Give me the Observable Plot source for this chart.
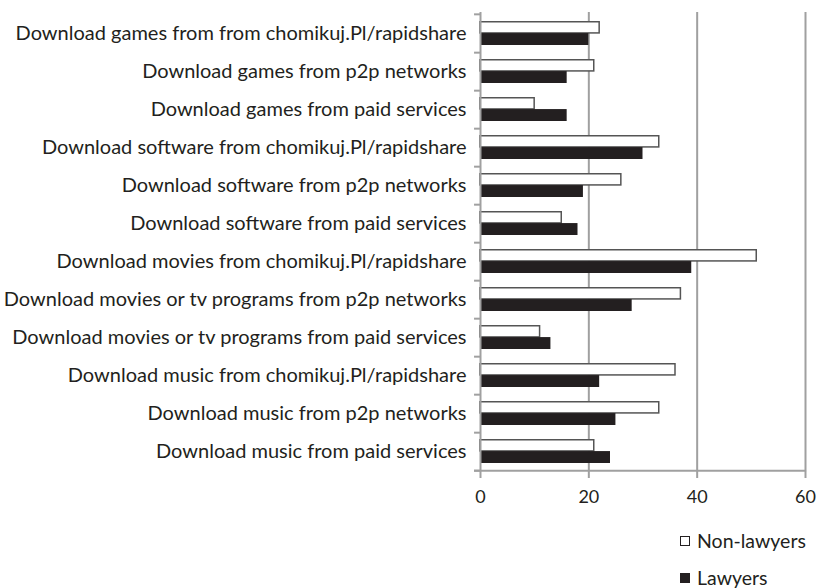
<!DOCTYPE html>
<html>
<head>
<meta charset="utf-8">
<script src="https://cdn.jsdelivr.net/npm/d3@7"></script>
<script src="https://cdn.jsdelivr.net/npm/@observablehq/plot@0.6"></script>
<style>
  body { margin: 0; background: #fff; font-family: Lato, sans-serif; }
  #wrap { position: relative; width: 817px; height: 588px; }
  .leg { position: absolute; left: 680px; font-size: 19.5px; color: #231f20; display: flex; align-items: center; }
  .sw { width: 10px; height: 10px; margin-right: 7px; box-sizing: border-box; }
</style>
</head>
<body>
<div id="wrap"></div>
<script>
const categories = [
  "Download games from from chomikuj.Pl/rapidshare",
  "Download games from p2p networks",
  "Download games from paid services",
  "Download software from chomikuj.Pl/rapidshare",
  "Download software from p2p networks",
  "Download software from paid services",
  "Download movies from chomikuj.Pl/rapidshare",
  "Download movies or tv programs from p2p networks",
  "Download movies or tv programs from paid services",
  "Download music from chomikuj.Pl/rapidshare",
  "Download music from p2p networks",
  "Download music from paid services"
];
const nonLawyers = [22, 21, 10, 33, 26, 15, 51, 37, 11, 36, 33, 21];
const lawyers    = [20, 16, 16, 30, 19, 18, 39, 28, 13, 22, 25, 24];
const xTicks = [0, 20, 40, 60];
const seriesNames = ["Non-lawyers", "Lawyers"];

const nl = categories.map((c, i) => ({category: c, value: nonLawyers[i]}));
const lw = categories.map((c, i) => ({category: c, value: lawyers[i]}));

const height = 520, marginTop = 12, marginBottom = 48;
const step = (height - marginTop - marginBottom) / categories.length;
const padIn = 0.37;
const bw = step * (1 - padIn);

const chart = Plot.plot({
  width: 817,
  height,
  marginLeft: 480,
  marginRight: 12,
  marginTop,
  marginBottom,
  style: {fontFamily: "Lato, sans-serif", fontSize: "18px", color: "#231f20", background: "#fff"},
  x: {domain: [0, 60], ticks: xTicks},
  y: {domain: categories, paddingInner: padIn, paddingOuter: padIn / 2},
  marks: [
    Plot.ruleX([20, 40, 60], {stroke: "#a0a0a0", strokeWidth: 2}),
    Plot.barX(nl, {y: "category", x: "value", fill: "#fff", stroke: "#555", strokeWidth: 1.5, insetBottom: bw / 2, insetTop: 0.75}),
    Plot.barX(lw, {y: "category", x: "value", fill: "#231f20", insetTop: bw / 2}),
    Plot.ruleX([0], {stroke: "#a0a0a0", strokeWidth: 2}),
    Plot.ruleY([0], {y: () => categories[0], x1: -1.1, x2: 0, dy: -step / 2, stroke: "#a0a0a0", strokeWidth: 2}),
    Plot.ruleY(categories, {y: d => d, x1: -1.1, x2: 0, dy: step / 2, stroke: "#a0a0a0", strokeWidth: 2}),
    Plot.ruleY(categories.slice(-1), {y: d => d, x1: -1.1, x2: 60.2, dy: step / 2, stroke: "#a0a0a0", strokeWidth: 2}),
    Plot.axisY({tickSize: 0, tickPadding: 14, label: null, fill: "#231f20", fontSize: 20}),
    Plot.axisX(xTicks, {tickSize: 6, tickPadding: 12, stroke: "#a0a0a0", strokeWidth: 2, label: null, fill: "#231f20"})
  ]
});
const wrap = document.getElementById("wrap");
wrap.appendChild(chart);

const leg1 = document.createElement("div");
leg1.className = "leg"; leg1.style.top = "529px";
leg1.innerHTML = `<span class="sw" style="border:1px solid #231f20;background:#fff"></span>${seriesNames[0]}`;
const leg2 = document.createElement("div");
leg2.className = "leg"; leg2.style.top = "566px";
leg2.innerHTML = `<span class="sw" style="background:#231f20"></span>${seriesNames[1]}`;
wrap.appendChild(leg1); wrap.appendChild(leg2);
</script>
</body>
</html>
